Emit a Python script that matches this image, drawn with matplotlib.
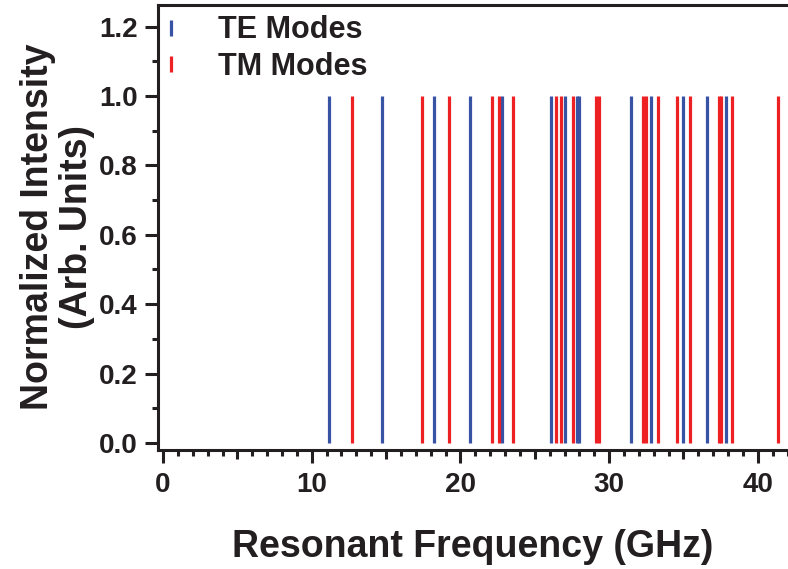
import matplotlib
matplotlib.use("Agg")
import matplotlib.pyplot as plt
from matplotlib.lines import Line2D

plt.rcParams['font.family'] = ['Liberation Sans', 'DejaVu Sans']
plt.rcParams['font.weight'] = 'bold'

# Resonant frequencies (GHz)
te_freqs = [11.14, 14.75, 18.22, 20.67, 22.82, 26.07, 27.01, 27.85, 28.00,
            31.47, 32.82, 34.99, 36.60, 37.86]
tm_freqs = [12.69, 17.40, 19.23, 22.10, 22.60, 23.52, 26.41, 26.77, 27.59,
            29.09, 29.32, 32.25, 32.48, 33.31, 34.55, 35.46, 37.38, 37.52,
            38.29, 41.34]
intensity = 1.0

te_color = '#3953a4'
tm_color = '#ed2024'
labels = ['TE Modes', 'TM Modes']

x_ticks = [0, 10, 20, 30, 40]
y_ticks = [0.0, 0.2, 0.4, 0.6, 0.8, 1.0, 1.2]

ink = '#231f20'

fig = plt.figure(figsize=(7.88, 5.69), dpi=100)
ax = fig.add_axes([0.2005, 0.210, 0.7995, 0.7817])

ax.vlines(te_freqs, 0, intensity, color=te_color, linewidth=2.3)
ax.vlines(tm_freqs, 0, intensity, color=tm_color, linewidth=2.3)

ax.set_xlim(-0.34, 42.03)
ax.set_ylim(-0.019, 1.263)

ax.spines['right'].set_visible(False)
for side in ['left', 'top', 'bottom']:
    ax.spines[side].set_linewidth(2.2)
    ax.spines[side].set_color(ink)

ax.set_xticks(x_ticks)
ax.set_xticks([v for v in range(0, 43) if v % 5 != 0], minor=True)
ax.set_yticks(y_ticks)
ax.set_yticklabels([f'{v:.1f}' for v in y_ticks])
ax.set_yticks([0.1, 0.3, 0.5, 0.7, 0.9, 1.1], minor=True)

ax.tick_params(axis='both', which='major', direction='out', length=9.5,
               width=2.2, color=ink, labelsize=20, labelcolor=ink)
ax.tick_params(axis='both', which='minor', direction='out', length=4.5,
               width=2.2, color=ink)
ax.tick_params(axis='x', which='major', pad=7)
ax.tick_params(axis='y', which='major', pad=5)

# Intermediate ticks at the half-decades
mid = ax.secondary_xaxis('bottom')
mid.set_xticks([5, 15, 25, 35])
mid.set_xticklabels([])
mid.spines['bottom'].set_visible(False)
mid.tick_params(axis='x', direction='out', length=6.5, width=2.2, color=ink)

ax.set_xlabel('Resonant Frequency (GHz)', fontsize=27, fontweight='bold',
              color=ink, labelpad=22)
ax.set_ylabel('Normalized Intensity\n(Arb. Units)', fontsize=27,
              fontweight='bold', color=ink, labelpad=3, linespacing=1.12)

handles = [Line2D([], [], linestyle='none', marker='|', markersize=11,
                  markeredgewidth=2.3, color=c) for c in (te_color, tm_color)]
leg = ax.legend(handles, labels, loc='upper left', bbox_to_anchor=(-0.003, 0.993),
                frameon=False, fontsize=22, handlelength=0.5, handletextpad=1.27,
                borderaxespad=0.0, labelspacing=0.2, borderpad=0.25)
for t in leg.get_texts():
    t.set_color(ink)

fig.savefig('out.png', dpi=100)
